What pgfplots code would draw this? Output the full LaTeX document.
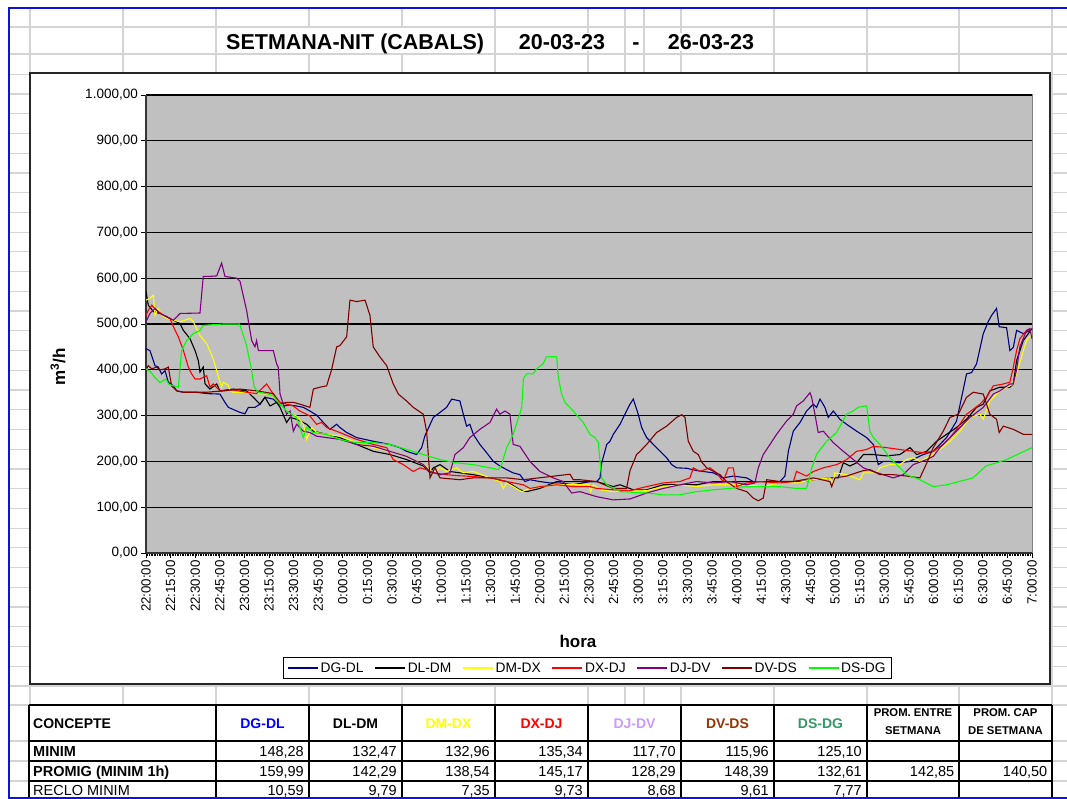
\documentclass[border=0pt]{standalone}
\usepackage{pgfplots}
\pgfplotsset{compat=1.18}
\usepackage{fontspec}
\setmainfont{Liberation Sans}
\newcommand\fs[1]{\fontsize{#1}{#1}\selectfont}
\definecolor{gridc}{HTML}{D4D4D4}
\definecolor{plotbg}{HTML}{C0C0C0}
\definecolor{xlblue}{HTML}{1010E0}
\definecolor{sDGDL}{HTML}{000080}
\definecolor{sDLDM}{HTML}{000000}
\definecolor{sDMDX}{HTML}{FFFF00}
\definecolor{sDXDJ}{HTML}{FF0000}
\definecolor{sDJDV}{HTML}{800080}
\definecolor{sDVDS}{HTML}{800000}
\definecolor{sDSDG}{HTML}{00FF00}
\definecolor{hDGDL}{HTML}{0000FF}
\definecolor{hDJDV}{HTML}{CC99FF}
\definecolor{hDVDS}{HTML}{993300}
\definecolor{hDSDG}{HTML}{339966}
\begin{document}
\begin{tikzpicture}
\useasboundingbox (0pt,0pt) rectangle (1067pt,-799pt);
\begin{scope}[x=1pt,y=-1pt]
\fill[white] (0,0) rectangle (1067,799);
% spreadsheet grid
\foreach \yy in {27,54,74.5,705,741,761,781} {\draw[gridc,line width=1.2pt] (9,\yy) -- (1067,\yy);}
\foreach \k in {0,...,30} {\pgfmathsetmacro\yy{94+19.733*\k}\draw[gridc,line width=1.2pt] (9,\yy) -- (1067,\yy);}
\foreach \xx in {30,123,216,309,402,495,588,625,644,681,774,867,959,1052} {\draw[gridc,line width=1.2pt] (\xx,8) -- (\xx,799);}
\fill[white] (217,28) rectangle (494,53.2);
% title
\node[anchor=base west,inner sep=0pt,font=\bfseries\fs{21.5}] at (226,49.5) {SETMANA-NIT (CABALS)};
\node[anchor=base,inner sep=1pt,fill=white,font=\bfseries\fs{21.5}] at (562,49.5) {20-03-23};
\node[anchor=base,inner sep=1pt,font=\bfseries\fs{21.5}] at (636,49.5) {-};
\node[anchor=base,inner sep=1pt,fill=white,font=\bfseries\fs{21.5}] at (711,49.5) {26-03-23};
% chart area
\filldraw[fill=white,draw=black!85,line width=1.2pt] (30,73) rectangle (1050,684);
\end{scope}

\begin{axis}[
  at={(146pt,-553pt)}, anchor=south west,
  scale only axis, width=886pt, height=458pt,
  xmin=0, xmax=540, ymin=0, ymax=1000,
  axis x line*=bottom, axis y line*=left,
  axis line style={-, draw=black!80, line width=1.3pt},
  axis background/.style={fill=plotbg, draw=gray, line width=1pt},
  ymajorgrids, grid style={black, line width=1.1pt},
  xtick={0,15,...,540}, minor x tick num=14,
  xticklabels={22:00:00,22:15:00,22:30:00,22:45:00,23:00:00,23:15:00,23:30:00,23:45:00,0:00:00,0:15:00,0:30:00,0:45:00,1:00:00,1:15:00,1:30:00,1:45:00,2:00:00,2:15:00,2:30:00,2:45:00,3:00:00,3:15:00,3:30:00,3:45:00,4:00:00,4:15:00,4:30:00,4:45:00,5:00:00,5:15:00,5:30:00,5:45:00,6:00:00,6:15:00,6:30:00,6:45:00,7:00:00},
  ytick={0,100,...,1000},
  yticklabels={{0,00},{100,00},{200,00},{300,00},{400,00},{500,00},{600,00},{700,00},{800,00},{900,00},{1.000,00}},
  tick align=outside, major tick length=5pt, minor tick length=3pt,
  tick style={black, line width=0.8pt},
  xticklabel style={rotate=90, anchor=east, inner sep=2pt, font=\fs{13.3}},
  yticklabel style={inner sep=3pt, font=\fs{13.5}},
  xlabel={hora},
  xlabel style={at={(axis description cs:0.4876,-0.194)}, anchor=center, font=\bfseries\fs{17}},
  ylabel={m\textsuperscript{3}/h},
  ylabel style={at={(axis description cs:-0.0993,0.406)}, anchor=center, font=\bfseries\fs{17}},
  legend style={at={(axis description cs:0.4983,-0.2511)}, anchor=center, legend columns=-1,
    draw=black, line width=0.8pt, fill=white, font=\fs{13.8}, inner xsep=4pt, inner ysep=3pt,
    /tikz/every even column/.append style={column sep=9pt}},
  legend cell align=left,
  legend image code/.code={\draw[#1, line width=1.2pt] (0pt,0pt) -- (30pt,0pt);},
  every axis plot/.append style={line width=1.1pt},
]
\addplot[sDGDL] coordinates {(0,446) (2.4,442) (5.5,409) (7.5,406) (9.5,391) (11.6,398) (13.6,373) (16.7,365) (18.7,354) (22.8,351) (30.9,351) (37,348) (45.1,347) (48.1,329) (50.2,318) (57.3,307) (60.3,304) (62.4,318) (66.4,318) (69.5,325) (72.5,340) (77.6,336) (80.6,325) (83.7,321) (87.8,323) (91.8,321) (95.9,318) (99.9,310) (104,301) (108.1,285) (112.1,270) (116.2,281) (118.2,274) (122.3,263) (128.4,252) (138.5,244) (148.7,237) (154.8,230) (158.8,222) (164.9,215) (168,230) (170,256) (175.1,296) (179.2,307) (183.2,318) (186.3,336) (191.3,332) (193.4,303) (195.4,277) (197.4,281) (199.5,259) (203.5,237) (207.6,219) (211.7,200) (215.7,190) (219.8,182) (223.8,175) (227.9,171) (231,156) (234,160) (240.1,156) (246.2,153) (252.3,153) (260.4,149) (270.6,156) (274.7,156) (276.7,164) (277.7,196) (280.8,237) (282.8,244) (284.8,259) (288.9,281) (291.9,303) (295,325) (297,336) (300,303) (302.1,274) (305.1,252) (311.2,230) (317.3,208) (320.4,193) (323.4,186) (329.5,185) (335.6,180) (345.8,175) (351.8,164) (357.9,168) (366.1,164) (370.1,156) (386.4,156) (389.4,168) (391.5,222) (394.5,266) (398.6,285) (402.6,310) (406.7,325) (408.7,318) (410.8,336) (413.8,318) (415.8,296) (418.9,310) (422.9,292) (427,281) (433.1,266) (439.2,252) (443.3,237) (446.3,193) (449.3,200) (453.4,200) (459.5,197) (465.6,200) (469.7,208) (473.7,215) (479.8,222) (487.9,252) (494,288) (497.1,340) (500.1,391) (503.2,394) (506.2,413) (510.3,479) (513.3,505) (515.4,519) (518.4,534) (520,494) (524.5,492) (526.5,442) (528.6,449) (530.6,486) (534.7,479) (538.7,486) (540,490)};
\addplot[sDLDM] coordinates {(0,571) (1.4,541) (4.5,527) (8.5,523) (12.6,516) (16.7,508) (20.7,501) (22.8,486) (26.8,468) (29.9,442) (31.9,420) (32.9,395) (34.9,406) (36,369) (39,358) (43.1,369) (45.1,354) (53.2,358) (61.3,354) (65.4,340) (69.5,325) (72.5,340) (75.6,321) (79.6,329) (81.7,318) (85.7,285) (87.8,296) (91.8,292) (97.9,281) (102,266) (110.1,259) (118.2,252) (128.4,237) (138.5,222) (148.7,215) (158.8,204) (169,190) (173.1,175) (175.1,186) (179.2,193) (185.3,178) (191.3,175) (199.5,171) (209.6,164) (219.8,156) (227.9,138) (232,134) (240.1,141) (250.3,156) (270.6,156) (274.7,156) (284.8,145) (288.9,149) (297,138) (305.1,138) (315.3,149) (335.6,149) (345.8,156) (366.1,156) (386.4,156) (402.6,157) (406.7,160) (416.8,164) (421.9,164) (425,197) (429,190) (433.1,197) (437.2,215) (443.3,215) (451.4,212) (459.5,215) (465.6,230) (469.7,215) (475.8,222) (481.8,244) (487.9,259) (494,274) (500.1,292) (506.2,318) (510.3,325) (514.3,354) (520.4,362) (526.5,362) (528.6,369) (530.6,420) (534.7,464) (540,490)};
\addplot[sDMDX] coordinates {(0,552) (2.4,556) (4.5,563) (5.5,519) (7.5,534) (9.5,519) (12.6,512) (16.7,508) (20.7,505) (26.8,512) (28.8,505) (32.9,475) (37,457) (41,424) (45.1,373) (46.1,362) (47.1,373) (50.2,366) (51.2,354) (53.2,351) (57.3,351) (67.4,348) (75.6,347) (79.6,336) (83.7,318) (87.8,303) (91.8,299) (95.9,281) (97.9,248) (101,274) (104,263) (110.1,259) (118.2,255) (128.4,241) (138.5,230) (148.7,222) (158.8,211) (169,193) (173.1,182) (175.1,175) (179.2,186) (183.2,178) (189.3,186) (193.4,175) (199.5,178) (209.6,164) (215.7,156) (217.8,141) (219.8,153) (223.8,145) (228.9,134) (234,141) (240.1,145) (250.3,149) (270,149) (271,134) (272.6,149) (276.7,138) (284.8,134) (295,135) (305,136) (315.3,145) (325.4,149) (335.6,145) (345.8,149) (366,149) (376.2,145) (386.4,153) (396.5,153) (406.7,160) (416.8,164) (418.9,153) (419.9,175) (427,171) (435.1,160) (437.2,175) (445.3,175) (447.3,186) (453.4,193) (459.5,193) (463.6,204) (467.6,208) (471.7,200) (477.8,211) (483.9,226) (490,244) (496.1,266) (502.2,296) (508.3,303) (510.3,292) (514.3,332) (520.4,354) (528.6,369) (530.6,391) (534.7,442) (536.7,464) (540,479)};
\addplot[sDXDJ] coordinates {(0,519) (1.4,530) (3.5,541) (6.5,530) (10.6,519) (14.6,512) (16.7,494) (19.7,472) (22.8,442) (25.8,406) (27.8,391) (29.9,380) (32.9,380) (37,387) (39,362) (41,369) (45.1,354) (53.2,356) (61.3,351) (67.4,348) (73.5,369) (77.6,347) (81.7,329) (85.7,325) (89.8,321) (93.8,310) (99.9,299) (104,281) (107,285) (110.1,274) (118.2,263) (128.4,248) (138.5,237) (146.7,230) (150.7,204) (156.8,193) (162.9,178) (167,186) (171,182) (175.1,175) (183.2,171) (189.3,169) (199.5,167) (209.6,164) (219.8,156) (229.9,149) (234,141) (240.1,145) (250.3,149) (260.4,145) (270.6,145) (274.7,141) (284.8,138) (295,136) (305.1,145) (315.3,153) (325.4,156) (331.5,164) (333.6,186) (337.6,178) (343.7,186) (347.8,175) (351.8,156) (354.9,186) (357.9,186) (360,145) (366.1,153) (374.2,156) (386.4,153) (394.5,156) (396.5,178) (402.6,168) (406.7,178) (412.8,186) (420.9,193) (427,204) (433.1,222) (439.2,226) (443.3,233) (451.4,230) (459.5,226) (467.6,222) (473.7,219) (479.8,222) (485.9,237) (490,252) (494,270) (500.1,303) (508.3,325) (512.3,340) (516.4,365) (522.5,369) (526.5,373) (528.6,406) (530.6,442) (532.6,468) (536.7,486) (540,490)};
\addplot[sDJDV] coordinates {(0,505) (2.4,523) (5.5,534) (8.5,523) (12.6,516) (16.7,508) (20.7,523) (32.9,524) (34.9,604) (39,604) (43.1,605) (46.1,633) (48.1,604) (55.3,600) (57.3,593) (61.3,530) (64.4,464) (66.4,450) (67.4,464) (68.5,442) (77.6,442) (79.6,413) (80.6,406) (81.7,347) (85.7,303) (87.8,310) (89.8,266) (91.8,281) (95.9,266) (99.9,263) (104,255) (110.1,252) (118.2,248) (128.4,237) (138.5,233) (148.7,222) (158.8,211) (169,193) (173.1,178) (179.2,171) (185.3,175) (188.3,215) (193.4,230) (197.4,252) (203.5,270) (209.6,285) (213.7,314) (215.7,303) (218.8,310) (221.8,303) (223.8,237) (227.9,233) (234,200) (240.1,178) (244.2,171) (248.2,164) (254.3,156) (259.4,131) (264.5,134) (274.7,123) (284.8,116) (295,118) (305.1,131) (315.3,141) (325.4,149) (335.6,156) (345.8,153) (355.9,156) (366.1,149) (371.1,153) (373.2,186) (376.2,215) (380.3,237) (384.3,259) (390.4,288) (394.5,303) (396.5,321) (400.6,332) (404.7,350) (405.7,340) (407.7,303) (409.7,263) (412.8,266) (418.9,241) (425,222) (431.1,204) (437.2,186) (443.3,178) (449.3,171) (455.4,164) (461.5,171) (467.6,193) (475.8,204) (479.8,211) (483.9,230) (490,252) (496.1,274) (502.2,296) (510.3,318) (516.4,347) (520.4,354) (526.5,369) (528.6,369) (530.6,400) (532.6,450) (536.7,486) (538.7,490) (540,468)};
\addplot[sDVDS] coordinates {(0,400) (1.4,409) (3.5,402) (6.5,406) (8.5,400) (11.6,402) (13.6,406) (15.6,365) (18.7,354) (22.8,351) (37,351) (47.1,354) (57.3,358) (67.4,354) (77.6,348) (81.7,325) (85.7,329) (89.8,329) (93.8,325) (99.9,318) (102,358) (106,362) (110.1,365) (113.1,400) (116.2,450) (118.2,453) (122.3,472) (124.3,552) (128.4,549) (133.5,552) (136.5,519) (138.5,450) (142.6,428) (146.7,409) (150.7,369) (153.8,347) (158.8,332) (162.9,318) (169,303) (171,266) (173.1,164) (176.1,186) (179.2,164) (191.3,160) (199.5,164) (219.8,164) (229.9,160) (258.4,172) (260.4,160) (264.5,160) (274.7,156) (284.8,141) (292.9,141) (295,180) (299,215) (301.1,222) (305.1,237) (311.2,263) (317.3,277) (323.4,296) (326.5,302) (328.5,296) (330.5,244) (333.6,222) (336.6,215) (338.6,199) (341.7,186) (349.8,171) (353.9,156) (360,141) (366.1,134) (370.1,120) (373.2,114) (376.2,120) (378.3,160) (386.4,156) (394.5,156) (406.7,164) (416.8,156) (417.9,145) (419.9,164) (427,168) (437.2,180) (441.2,182) (447.3,171) (455.4,171) (463.6,168) (471.7,164) (475.8,196) (479.8,230) (485.9,266) (490,296) (495.1,303) (500.1,340) (504.2,351) (510.3,347) (514.3,303) (518.4,292) (520,263) (522.5,277) (528.6,270) (534.7,259) (540,259)};
\addplot[sDSDG] coordinates {(0,402) (3,395) (5,385) (8.5,372) (12,380) (14,368) (16.7,365) (19.7,362) (21.7,442) (24.8,464) (28.8,479) (32.9,486) (34.9,497) (47,500) (57,500) (61,457) (64,406) (66,362) (68.5,351) (73.5,348) (77.6,343) (81.7,325) (85.7,310) (91.8,296) (95.9,252) (97.9,274) (102,263) (110,259) (118,248) (128,241) (138.5,241) (148.7,237) (158.8,226) (169,215) (179,204) (189,197) (199.5,193) (209.6,186) (214.7,182) (216.7,193) (219.8,230) (223.8,259) (229,318) (230,380) (232,391) (236,391) (238,402) (242,413) (244,428) (248,429) (250.3,428) (251.3,384) (253.3,347) (255.3,329) (260.4,310) (266.5,285) (270.6,259) (273.6,252) (275.7,241) (276.7,201) (277.7,164) (280.8,149) (288.9,134) (305,131) (315,127) (325,127) (335.6,134) (345.8,138) (356,141) (366,145) (386,145) (396.5,141) (402.6,141) (405.7,185) (408.7,215) (414.8,244) (420.9,263) (427,303) (431,310) (434,318) (438,321) (439.2,321) (441.2,266) (443.3,252) (447.3,237) (453.4,208) (459.5,186) (463.6,171) (471.7,160) (479.8,145) (488,149) (504,164) (512,190) (524.5,204) (540,230)};
\legend{DG-DL,DL-DM,DM-DX,DX-DJ,DJ-DV,DV-DS,DS-DG}
\end{axis}

\begin{scope}[x=1pt,y=-1pt]
% table
\fill[white] (29,705) rectangle (1052,799);
\foreach \yy in {705,741,761,781} {\draw[black,line width=1.6pt] (29,\yy) -- (1052,\yy);}
\foreach \xx in {29,216,309,402,495,588,681,774,867,959,1052} {\draw[black,line width=1.6pt] (\xx,705) -- (\xx,799);}
\node[anchor=base west,inner sep=0pt,font=\bfseries\fs{14}] at (33,728.5) {CONCEPTE};
\node[anchor=base,inner sep=0pt,font=\bfseries\fs{14},text=hDGDL] at (262.5,728.5) {DG-DL};
\node[anchor=base,inner sep=0pt,font=\bfseries\fs{14}] at (355.5,728.5) {DL-DM};
\node[anchor=base,inner sep=0pt,font=\bfseries\fs{14},text=sDMDX] at (448.5,728.5) {DM-DX};
\node[anchor=base,inner sep=0pt,font=\bfseries\fs{14},text=sDXDJ] at (541.5,728.5) {DX-DJ};
\node[anchor=base,inner sep=0pt,font=\bfseries\fs{14},text=hDJDV] at (634.5,728.5) {DJ-DV};
\node[anchor=base,inner sep=0pt,font=\bfseries\fs{14},text=hDVDS] at (727.5,728.5) {DV-DS};
\node[anchor=base,inner sep=0pt,font=\bfseries\fs{14},text=hDSDG] at (820.5,728.5) {DS-DG};
\node[anchor=base,inner sep=0pt,font=\bfseries\fs{11.3}] at (913,716) {PROM. ENTRE};
\node[anchor=base,inner sep=0pt,font=\bfseries\fs{11.3}] at (913,734.5) {SETMANA};
\node[anchor=base,inner sep=0pt,font=\bfseries\fs{11.3}] at (1005.5,716) {PROM. CAP};
\node[anchor=base,inner sep=0pt,font=\bfseries\fs{11.3}] at (1005.5,734.5) {DE SETMANA};
\node[anchor=base west,inner sep=0pt,font=\bfseries\fs{14.5}] at (33,756.5) {MINIM};
\node[anchor=base west,inner sep=0pt,font=\bfseries\fs{14.5}] at (33,776.5) {PROMIG (MINIM 1h)};
\node[anchor=base west,inner sep=0pt,font=\fs{14.5}] at (33,795.5) {RECLO MINIM};
\foreach \xr/\a/\b/\c in {304/{148,28}/{159,99}/{10,59}, 397/{132,47}/{142,29}/{9,79}, 490/{132,96}/{138,54}/{7,35}, 583/{135,34}/{145,17}/{9,73}, 676/{117,70}/{128,29}/{8,68}, 769/{115,96}/{148,39}/{9,61}, 862/{125,10}/{132,61}/{7,77}} {
  \node[anchor=base east,inner sep=0pt,font=\fs{14.5}] at (\xr,756.5) {\a};
  \node[anchor=base east,inner sep=0pt,font=\fs{14.5}] at (\xr,776.5) {\b};
  \node[anchor=base east,inner sep=0pt,font=\fs{14.5}] at (\xr,795.5) {\c};
}
\node[anchor=base east,inner sep=0pt,font=\fs{14.5}] at (954.5,776.5) {142,85};
\node[anchor=base east,inner sep=0pt,font=\fs{14.5}] at (1047.5,776.5) {140,50};
% blue sheet border
\draw[xlblue,line width=2pt] (9,799) -- (9,8) -- (1067,8);
\draw[xlblue,line width=2pt] (9,797.5) -- (1067,797.5);
\end{scope}
\end{tikzpicture}
\end{document}
